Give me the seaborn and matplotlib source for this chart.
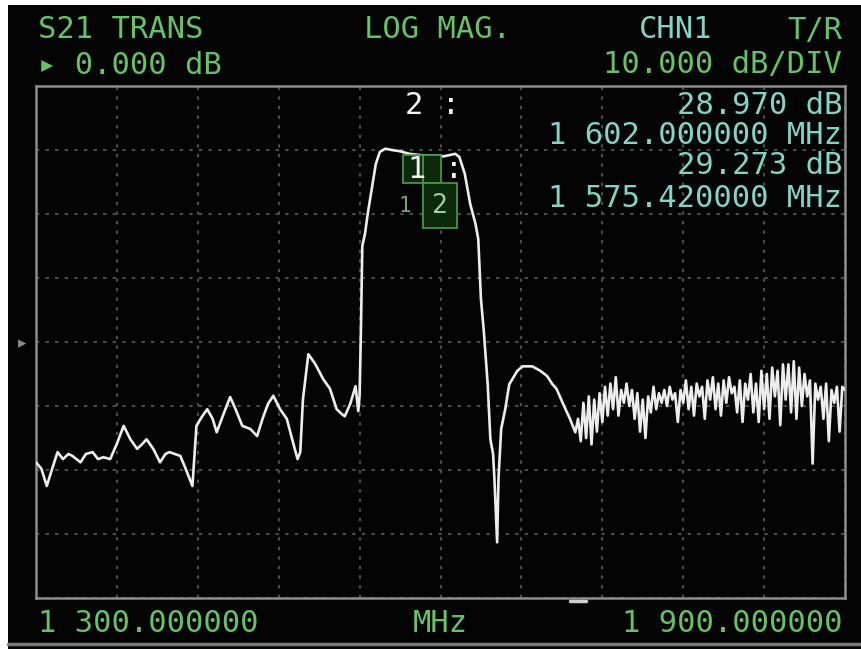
import matplotlib
matplotlib.use("Agg")
import matplotlib.pyplot as plt
import seaborn as sns
import numpy as np
import pandas as pd
from matplotlib.patches import Rectangle

# ---------------- data ----------------
start_mhz = 1300.0
stop_mhz = 1900.0
ref_db = 0.0
db_per_div = 10.0

freq_main = [1300, 1304, 1308, 1312, 1316, 1320, 1324, 1327, 1333, 1337,
             1342, 1346, 1350, 1355, 1360, 1365, 1370, 1375, 1379, 1382,
             1387, 1392, 1396, 1399, 1403, 1407, 1411, 1416, 1419, 1423,
             1427, 1431, 1434, 1439, 1444, 1448, 1453, 1459, 1464, 1468,
             1472, 1476, 1481, 1486, 1490, 1494, 1496, 1498, 1502, 1507,
             1513, 1518, 1523, 1527, 1529, 1533, 1537, 1539, 1540, 1541,
             1542, 1544, 1546, 1549, 1552, 1555, 1559, 1564, 1570, 1577,
             1585, 1592, 1600, 1602, 1611, 1614, 1618, 1622, 1626, 1628,
             1630, 1632, 1635, 1637, 1639, 1640, 1642, 1643, 1645, 1648,
             1651, 1657, 1661, 1668, 1674, 1679, 1683, 1686, 1691, 1696,
             1700]
db_main = [-18.8, -19.8, -22.5, -19.8, -17.2, -18.3, -17.5, -17.8, -18.8, -17.5,
           -17.2, -18.3, -18.0, -18.3, -15.9, -13.1, -15.2, -16.7, -15.9, -15.2,
           -16.7, -18.8, -17.5, -17.2, -17.5, -17.8, -19.8, -22.5, -13.1, -11.7,
           -10.5, -12.0, -14.1, -11.3, -8.6, -10.5, -13.1, -13.6, -14.7, -12.0,
           -9.7, -8.4, -10.5, -12.0, -15.2, -18.3, -17.2, -8.9, -1.9, -3.4,
           -5.8, -7.3, -10.5, -11.3, -11.6, -9.7, -6.9, -10.8, -8.4, 2.0,
           15.0, 16.9, 20.0, 23.9, 27.8, 29.7, 30.2, 30.0, 29.8, 29.4,
           29.2, 29.1, 29.1, 29.0, 29.4, 28.9, 26.3, 21.6, 18.4, 16.1,
           6.7, 2.0, -6.6, -15.2, -17.5, -21.4, -31.3, -21.4, -13.6, -10.5,
           -6.6, -4.5, -3.8, -3.8, -4.5, -5.3, -6.6, -7.3, -9.7, -12.0,
           -14.1]

freq_noise = [1702, 1704, 1706, 1708, 1710, 1712, 1714, 1716, 1718, 1720,
              1722, 1724, 1726, 1728, 1730, 1732, 1734, 1736, 1738, 1740,
              1742, 1744, 1746, 1748, 1750, 1752, 1754, 1756, 1758, 1760,
              1762, 1764, 1766, 1768, 1770, 1772, 1774, 1776, 1778, 1780,
              1782, 1784, 1786, 1788, 1790, 1792, 1794, 1796, 1798, 1800,
              1802, 1804, 1806, 1808, 1810, 1812, 1814, 1816, 1818, 1820,
              1822, 1824, 1826, 1828, 1830, 1832, 1834, 1836, 1838, 1840,
              1842, 1844, 1846, 1848, 1850, 1852, 1854, 1856, 1858, 1860,
              1862, 1864, 1866, 1868, 1870, 1872, 1874, 1876, 1878, 1880,
              1882, 1884, 1886, 1888, 1890, 1892, 1894, 1896, 1898, 1900]
db_noise = [-12.0, -15.5, -9.5, -15.0, -8.5, -16.0, -9.0, -14.0, -8.0, -12.5,
            -7.0, -11.5, -6.5, -10.5, -5.5, -11.5, -7.5, -9.5, -6.5, -10.0,
            -7.5, -12.0, -8.0, -14.0, -9.0, -15.0, -8.5, -11.0, -7.0, -10.5,
            -8.0, -9.5, -7.5, -10.0, -7.0, -9.0, -8.0, -12.5, -7.5, -9.5,
            -6.0, -10.5, -7.0, -11.5, -6.5, -8.5, -7.0, -12.0, -6.0, -9.0,
            -5.5, -10.5, -6.5, -11.5, -6.0, -9.5, -5.5, -8.0, -7.0, -11.0,
            -6.0, -12.5, -6.5, -9.0, -5.0, -11.0, -6.5, -12.5, -4.5, -10.5,
            -5.0, -12.0, -4.0, -8.5, -4.5, -13.0, -3.5, -9.0, -3.5, -11.0,
            -3.0, -12.0, -4.0, -10.0, -5.0, -8.5, -6.0, -19.0, -6.5, -9.0,
            -7.0, -12.0, -6.5, -15.5, -7.5, -9.5, -7.0, -14.0, -7.0, -7.5]

header_left = "S21 TRANS"
header_mid = "LOG MAG."
header_chan = "CHN1"
header_right = "T/R"
ref_text = "\u25b8 0.000 dB"
scale_text = "10.000 dB/DIV"
mk2_label = "2 :"
mk1_label = "1 :"
mk_readouts = ["28.970 dB", "1 602.000000 MHz", "29.273 dB", "1 575.420000 MHz"]
start_text = "1 300.000000"
unit_text = "MHz"
stop_text = "1 900.000000"

# ---------------- figure ----------------
W, H = 861, 649
sns.set_theme(style="dark")
plt.rcParams["font.family"] = ["DejaVu Sans Mono", "DejaVu Sans"]

BG = "#040404"
fig = plt.figure(figsize=(W / 100, H / 100), dpi=100, facecolor=BG)


def fx(x):
    return x / W


def fy(y):
    return 1 - y / H


L, R, T, B = 36, 845, 86, 598
ax = fig.add_axes([fx(L), fy(B), fx(R) - fx(L), fy(T) - fy(B)])
ax.set_facecolor(BG)

df = pd.DataFrame({"freq": freq_main + freq_noise, "s21": db_main + db_noise})
sns.lineplot(data=df, x="freq", y="s21", ax=ax, color="#ededed",
             linewidth=1.9, estimator=None, sort=True, zorder=5)

ax.set_xlim(start_mhz, stop_mhz)
ax.set_ylim(ref_db - 4 * db_per_div, ref_db + 4 * db_per_div)
ax.set_xticks(np.linspace(start_mhz, stop_mhz, 11))
ax.set_yticks(np.linspace(ref_db - 4 * db_per_div, ref_db + 4 * db_per_div, 9))
ax.tick_params(length=0, labelbottom=False, labelleft=False)
ax.set_xlabel("")
ax.set_ylabel("")
ax.grid(True, color="#4c4c4c", linestyle=(0, (1.6, 3.0)), linewidth=1.5)
for s in ax.spines.values():
    s.set_color("#8c8c8c")
    s.set_linewidth(1.8)
    s.set_visible(True)


def px2data(x, y):
    f = start_mhz + (x - L) * (stop_mhz - start_mhz) / (R - L)
    d = (ref_db + 4 * db_per_div) - (y - T) * (8 * db_per_div) / (B - T)
    return f, d


# marker boxes
GREEN_EDGE = "#4f9a4f"
x0, y0 = px2data(403, 183)
x1, y1 = px2data(441, 155)
ax.add_patch(Rectangle((x0, y0), x1 - x0, y1 - y0, facecolor="#0b2a0b",
                       edgecolor=GREEN_EDGE, linewidth=1.2, zorder=6))
xd, _ = px2data(423, 0)
ax.plot([xd, xd], [y0, y1], color=GREEN_EDGE, lw=1.2, zorder=6)
x0, y0 = px2data(423, 228)
x1, y1 = px2data(457, 183)
ax.add_patch(Rectangle((x0, y0), x1 - x0, y1 - y0, facecolor="#0b2a0b",
                       edgecolor=GREEN_EDGE, linewidth=1.2, zorder=6))
tx, ty = px2data(440, 206)
ax.text(tx, ty, "2", color="#9ccf9c", fontsize=19, ha="center", va="center", zorder=7)
tx, ty = px2data(405, 206)
ax.text(tx, ty, "1", color="#7f9f7f", fontsize=15, ha="center", va="center", zorder=7)
tx, ty = px2data(408, 170)
ax.text(tx, ty, mk1_label, color="#f2f2f2", fontsize=22,
        ha="left", va="center", zorder=8)

# ---------------- texts ----------------
GREEN = "#66c266"
TEAL = "#82d4c4"
FS = 22
kw = dict(fontsize=FS, va="center")

fig.text(fx(38), fy(30), header_left, color=GREEN, ha="left", **kw)
fig.text(fx(437), fy(30), header_mid, color=GREEN, ha="center", **kw)
fig.text(fx(676), fy(30), header_chan, color=TEAL, ha="center", **kw)
fig.text(fx(842), fy(30), header_right, color=GREEN, ha="right", **kw)
fig.text(fx(38), fy(65), ref_text, color=GREEN, ha="left",
         family=["DejaVu Sans Mono", "DejaVu Sans"], **kw)
fig.text(fx(842), fy(65), scale_text, color=GREEN, ha="right", **kw)

fig.text(fx(405), fy(105), mk2_label, color="#f4f4f4", ha="left", **kw)
for txt, yy in zip(mk_readouts, [105, 136, 166, 198]):
    fig.text(fx(842), fy(yy), txt, color=TEAL, ha="right", **kw)

fig.text(fx(38), fy(624), start_text, color=GREEN, ha="left", **kw)
fig.text(fx(440), fy(624), unit_text, color=GREEN, ha="center", **kw)
fig.text(fx(842), fy(624), stop_text, color=GREEN, ha="right", **kw)

# reference position arrow on the left edge
fig.text(fx(22), fy(343), "\u25b8", color="#8a8a8a", fontsize=12, ha="center", va="center",
         family=["DejaVu Sans"])
# small stimulus marker under the axis
fig.add_artist(plt.Line2D([fx(570), fx(586)], [fy(601), fy(601)], color="#cfcfcf", lw=2.5))

# screen bezel bits
fig.add_artist(Rectangle((0, fy(5)), 1, 5 / H, transform=fig.transFigure,
                         facecolor="white", edgecolor="none"))
fig.add_artist(Rectangle((0, 0), 8 / W, 1, transform=fig.transFigure,
                         facecolor="white", edgecolor="none"))
fig.add_artist(plt.Line2D([fx(8), 1], [fy(644), fy(644)], color="#7a7a7a", lw=2.5))

fig.savefig("out.png", dpi=100, facecolor=BG)
